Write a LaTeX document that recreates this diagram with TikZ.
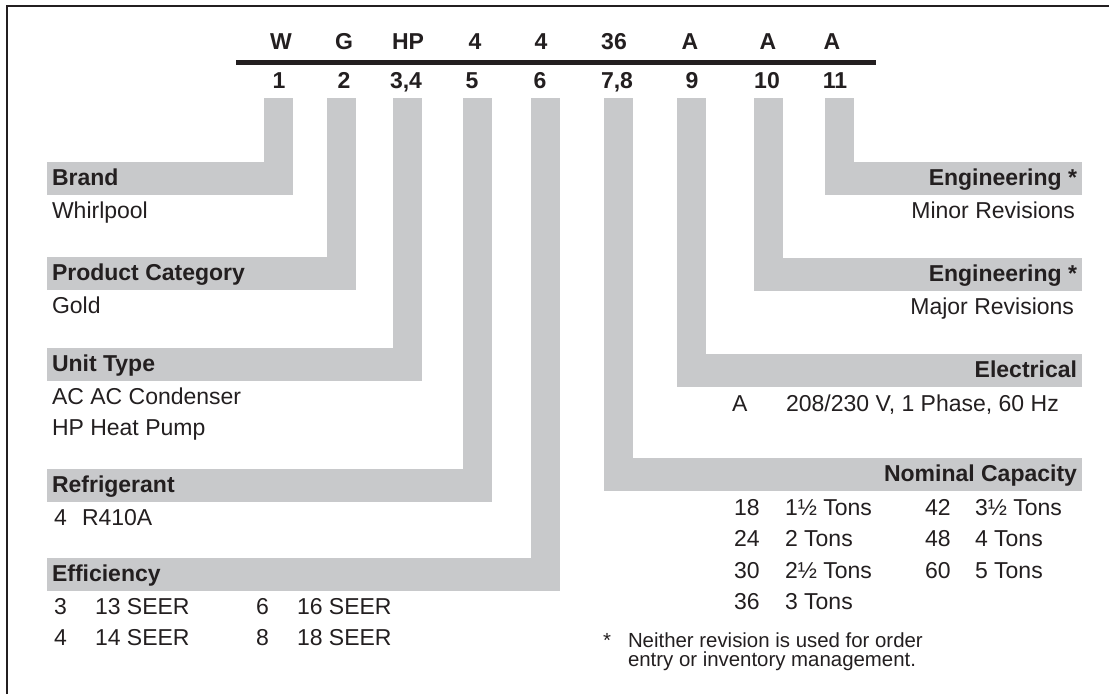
\documentclass[tikz,border=0pt]{standalone}
\usepackage{fontspec}
\setmainfont{Liberation Sans}
\definecolor{bargray}{RGB}{200,201,203}
\definecolor{ink}{RGB}{35,31,32}
\begin{document}
\begin{tikzpicture}[x=1pt,y=-1pt,
  every node/.style={inner sep=0pt, outer sep=0pt, text=ink},
  hdr/.style={font=\fontsize{23}{27}\selectfont\bfseries, anchor=base},
  lbl/.style={font=\fontsize{23}{27}\selectfont\bfseries, anchor=base west},
  rlbl/.style={font=\fontsize{23}{27}\selectfont\bfseries, anchor=base east},
  txt/.style={font=\fontsize{23}{27}\selectfont, anchor=base west},
  rtxt/.style={font=\fontsize{23}{27}\selectfont, anchor=base east},
  note/.style={font=\fontsize{20.4}{19}\selectfont, anchor=base west},
  bar/.style={fill=bargray}]
\useasboundingbox (0,0) rectangle (1109,694);
\fill[white] (0,0) rectangle (1109,694);
% frame
\draw[ink, line width=2pt] (7.3,694) -- (7.3,5.7) -- (1109,5.7);
% rule
\fill[ink] (236,60) rectangle (876,65);
% header letters
\node[hdr] (h1) at (281,49.5) {W};
\node[hdr] (h2) at (344,49.5) {G};
\node[hdr] (h3) at (408,49.5) {HP};
\node[hdr] (h5) at (475,49.5) {4};
\node[hdr] (h6) at (541,49.5) {4};
\node[hdr] (h7) at (614,49.5) {36};
\node[hdr] (h9) at (690,49.5) {A};
\node[hdr] (h10) at (768,49.5) {A};
\node[hdr] (h11) at (832,49.5) {A};
% position digits
\node[hdr] (d1) at (279,88.5) {1};
\node[hdr] (d2) at (344,88.5) {2};
\node[hdr] (d3) at (406,88.5) {3,4};
\node[hdr] (d5) at (472,88.5) {5};
\node[hdr] (d6) at (540,88.5) {6};
\node[hdr] (d7) at (617,88.5) {7,8};
\node[hdr] (d9) at (692,88.5) {9};
\node[hdr] (d10) at (767,88.5) {10};
\node[hdr] (d11) at (835,88.5) {11};
% left bars
\fill[bar] (264,98) rectangle (293,195); \fill[bar] (47,162) rectangle (293,195);
\fill[bar] (327,98) rectangle (356,290); \fill[bar] (47,257) rectangle (356,290);
\fill[bar] (393,98) rectangle (422,381); \fill[bar] (47,348) rectangle (422,381);
\fill[bar] (463,98) rectangle (492,502); \fill[bar] (47,469) rectangle (492,502);
\fill[bar] (531,98) rectangle (560,591); \fill[bar] (47,558) rectangle (560,591);
% right bars
\fill[bar] (604,98) rectangle (633,491); \fill[bar] (604,458) rectangle (1082,491);
\fill[bar] (677,98) rectangle (706,387); \fill[bar] (677,354) rectangle (1082,387);
\fill[bar] (754,98) rectangle (783,291); \fill[bar] (754,258) rectangle (1082,291);
\fill[bar] (825,98) rectangle (854,195); \fill[bar] (825,162) rectangle (1082,195);
% left labels
\node[lbl] (brand) at (52,185) {Brand};
\node[txt] (brandv) at (52,218) {Whirlpool};
\node[lbl] (cat) at (52,280) {Product Category};
\node[txt] (catv) at (52,313) {Gold};
\node[lbl] (unit) at (52,371) {Unit Type};
\node[txt] (unit1) at (52,404) {AC AC Condenser};
\node[txt] (unit2) at (52,435) {HP Heat Pump};
\node[lbl] (refr) at (52,492) {Refrigerant};
\node[txt] (refrc) at (54,525) {4};
\node[txt] (refrv) at (82,525) {R410A};
\node[lbl] (eff) at (52,581) {Efficiency};
\node[txt] (e3c) at (54,614) {3};
\node[txt] (e3v) at (95,614) {13 SEER};
\node[txt] (e6c) at (256,614) {6};
\node[txt] (e6v) at (297,614) {16 SEER};
\node[txt] (e4c) at (54,645) {4};
\node[txt] (e4v) at (95,645) {14 SEER};
\node[txt] (e8c) at (256,645) {8};
\node[txt] (e8v) at (297,645) {18 SEER};
% right labels
\node[rlbl] (eng1) at (1077,185) {Engineering *};
\node[rtxt] (eng1v) at (1075,218) {Minor Revisions};
\node[rlbl] (eng2) at (1077,281) {Engineering *};
\node[rtxt] (eng2v) at (1074,314) {Major Revisions};
\node[rlbl] (elec) at (1077,377) {Electrical};
\node[txt] (elecc) at (732,411) {A};
\node[txt] (elecv) at (786,411) {208/230 V, 1 Phase, 60 Hz};
\node[rlbl] (cap) at (1077,481) {Nominal Capacity};
\node[txt] (c18) at (734,515) {18};   \node[txt] (c18v) at (785,515) {1½ Tons};
\node[txt] (c42) at (925,515) {42};   \node[txt] (c42v) at (975,515) {3½ Tons};
\node[txt] (c24) at (734,546.5) {24}; \node[txt] (c24v) at (785,546.5) {2 Tons};
\node[txt] (c48) at (925,546.5) {48}; \node[txt] (c48v) at (975,546.5) {4 Tons};
\node[txt] (c30) at (734,578) {30};   \node[txt] (c30v) at (785,578) {2½ Tons};
\node[txt] (c60) at (925,578) {60};   \node[txt] (c60v) at (975,578) {5 Tons};
\node[txt] (c36) at (734,609.5) {36}; \node[txt] (c36v) at (785,609.5) {3 Tons};
% footnote
\node[note] (star) at (603,647) {*};
\node[note] (fn1) at (628,647) {Neither revision is used for order};
\node[note] (fn2) at (628,666) {entry or inventory management.};
\end{tikzpicture}
\end{document}
